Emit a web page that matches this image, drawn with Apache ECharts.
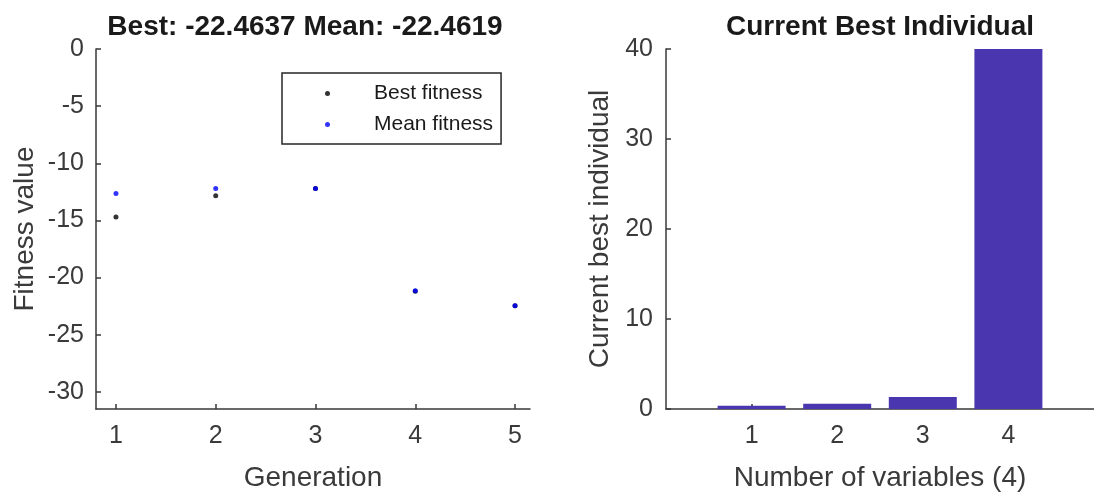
<!DOCTYPE html>
<html>
<head>
<meta charset="utf-8">
<script src="https://cdn.jsdelivr.net/npm/echarts@6/dist/echarts.min.js"></script>
<style>
  html, body { margin: 0; padding: 0; background: #fff; }
  #chart { width: 1094px; height: 497px; }
</style>
</head>
<body>
<div id="chart"></div>
<script>
// ---- data ----
const generations = [1, 2, 3, 4, 5];
const bestFitness = [-14.7, -12.85, -12.2, -21.2, -22.4637];
const meanFitness = [-12.65, -12.2, -12.2, -21.15, -22.4619];
const genTicks = [1, 2, 3, 4, 5];
const fitnessTicks = [0, -5, -10, -15, -20, -25, -30];

const variableIndex = [1, 2, 3, 4];
const bestIndividual = [0.37, 0.59, 1.33, 40];
const varTicks = [1, 2, 3, 4];

const leftTitle = 'Best: -22.4637 Mean: -22.4619';
const rightTitle = 'Current Best Individual';

// ---- styles ----
const FONT = 'Liberation Sans, Arial, Helvetica, sans-serif';
const AXIS_COLOR = '#383838';
const TEXT_COLOR = '#3a3a3a';

function axisCommon() {
  return {
    axisLine: { show: true, onZero: false, lineStyle: { color: AXIS_COLOR, width: 1.5 } },
    axisTick: { show: true, inside: true, length: 5, lineStyle: { color: AXIS_COLOR, width: 1.5 } },
    splitLine: { show: false },
    axisLabel: { fontFamily: FONT, fontSize: 25, color: TEXT_COLOR },
    nameTextStyle: { fontFamily: FONT, fontSize: 28, color: TEXT_COLOR },
    nameLocation: 'middle'
  };
}

function merge(a, b) {
  const out = Object.assign({}, a);
  for (const k in b) {
    if (b[k] && typeof b[k] === 'object' && !Array.isArray(b[k]) && a[k] && typeof a[k] === 'object') {
      out[k] = merge(a[k], b[k]);
    } else {
      out[k] = b[k];
    }
  }
  return out;
}

const chart = echarts.init(document.getElementById('chart'), null, { renderer: 'canvas' });

const option = {
  backgroundColor: '#ffffff',
  animation: false,
  title: [
    {
      text: leftTitle, left: 305, top: 12, textAlign: 'center', padding: 0,
      textStyle: { fontFamily: FONT, fontSize: 28, fontWeight: 'bold', color: '#1a1a1a', lineHeight: 30 }
    },
    {
      text: rightTitle, left: 880, top: 12, textAlign: 'center', padding: 0,
      textStyle: { fontFamily: FONT, fontSize: 28, fontWeight: 'bold', color: '#1a1a1a', lineHeight: 30 }
    }
  ],
  legend: {
    orient: 'vertical',
    left: 282, top: 73,
    padding: [10, 8, 9, 43],
    itemGap: 10,
    itemWidth: 5, itemHeight: 5,
    icon: 'circle',
    borderColor: '#262626', borderWidth: 1.5,
    backgroundColor: '#ffffff',
    data: ['Best fitness', 'Mean fitness'],
    textStyle: { fontFamily: FONT, fontSize: 21, lineHeight: 20, color: '#1a1a1a', padding: [0, 0, 0, 39] }
  },
  grid: [
    { left: 96, top: 49, width: 434, height: 360 },
    { left: 666, top: 49, width: 431, height: 360 }
  ],
  xAxis: [
    merge(axisCommon(), {
      type: 'value', gridIndex: 0, min: 0.8, max: 5.15,
      name: 'Generation', nameGap: 55,
      axisTick: { customValues: genTicks },
      axisLabel: { customValues: genTicks, margin: 15 }
    }),
    merge(axisCommon(), {
      type: 'value', gridIndex: 1, min: 0, max: 5,
      name: 'Number of variables (4)', nameGap: 55,
      axisTick: { customValues: varTicks },
      axisLabel: { customValues: varTicks, margin: 15 }
    })
  ],
  yAxis: [
    merge(axisCommon(), {
      type: 'value', gridIndex: 0, min: -31.5, max: 0,
      name: 'Fitness value', nameGap: 57,
      axisTick: { customValues: fitnessTicks },
      axisLabel: { customValues: fitnessTicks, margin: 12 }
    }),
    merge(axisCommon(), {
      type: 'value', gridIndex: 1, min: 0, max: 40, interval: 10,
      name: 'Current best individual', nameGap: 52,
      axisLabel: { margin: 13 }
    })
  ],
  series: [
    {
      name: 'Best fitness', type: 'scatter', xAxisIndex: 0, yAxisIndex: 0,
      symbol: 'circle', symbolSize: 5,
      itemStyle: { color: '#000000' },
      data: generations.map((g, i) => [g, bestFitness[i]]),
      z: 3
    },
    {
      name: 'Mean fitness', type: 'scatter', xAxisIndex: 0, yAxisIndex: 0,
      symbol: 'circle', symbolSize: 5,
      itemStyle: { color: '#0000ff' },
      data: generations.map((g, i) => [g, meanFitness[i]]),
      z: 4
    },
    {
      name: 'Current best individual', type: 'bar', xAxisIndex: 1, yAxisIndex: 1,
      barWidth: 68,
      itemStyle: { color: '#4a37b0' },
      data: variableIndex.map((v, i) => [v, bestIndividual[i]]),
      z: 1
    }
  ]
};

chart.setOption(option);
</script>
</body>
</html>
